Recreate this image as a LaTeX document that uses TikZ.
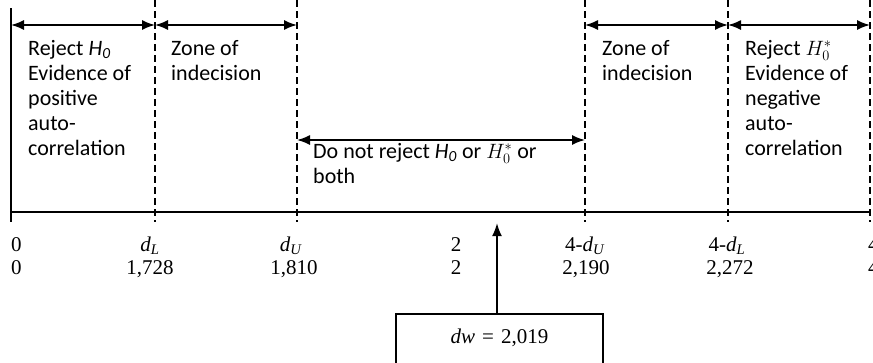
\documentclass[tikz,border=0pt]{standalone}
\usepackage{fontspec}
\setmainfont{Liberation Serif}
\newfontfamily\calib{Carlito}
\usetikzlibrary{arrows.meta}
\begin{document}
\begin{tikzpicture}[x=1pt,y=-1pt,
  dim/.style={{Latex[length=13pt,width=10pt]}-{Latex[length=13pt,width=10pt]}, line width=1.6pt},
  divider/.style={line width=2pt, dash pattern=on 7pt off 4pt},
  solidline/.style={line width=2pt},
  zonetext/.style={anchor=base west, align=left, inner sep=0pt, font=\calib\fontsize{22}{25}\selectfont},
  axlabel/.style={anchor=base, inner sep=0pt, font=\fontsize{21}{21}\selectfont},
  valbox/.style={draw, line width=2pt, anchor=north, inner sep=0pt, text width=207pt, align=center,
    text height=29pt, text depth=38pt, font=\fontsize{21}{21}\selectfont},
]
\useasboundingbox (0,0) rectangle (873,362);
% vertical boundaries
\coordinate (s0t) at (11,8);   \coordinate (s0b) at (11,222);
\coordinate (d1t) at (155,0);  \coordinate (d1b) at (155,222);
\coordinate (d2t) at (297,0);  \coordinate (d2b) at (297,222);
\coordinate (d3t) at (585,0);  \coordinate (d3b) at (585,222);
\coordinate (d4t) at (728,0);  \coordinate (d4b) at (728,222);
\coordinate (d5t) at (870,0);  \coordinate (d5b) at (870,222);
\draw[solidline] (s0t) -- (s0b);
\foreach \d in {d1,d2,d3,d4,d5} \draw[divider] (\d t) -- (\d b);
% axis
\coordinate (ax0) at (11,212); \coordinate (ax1) at (870,212);
\draw[line width=1.5pt] (ax0) -- (ax1);
% top dimension arrows
\coordinate (a0) at (11,25);  \coordinate (a1) at (155,25); \coordinate (a2) at (297,25);
\coordinate (a3) at (585,25); \coordinate (a4) at (728,25); \coordinate (a5) at (870,25);
\draw[dim] (a0) -- (a1);
\draw[dim] (a1) -- (a2);
\draw[dim] (a3) -- (a4);
\draw[dim] (a4) -- (a5);
\coordinate (m0) at (297,140); \coordinate (m1) at (585,140);
\draw[dim] (m0) -- (m1);
% zone texts (anchored at the baseline of their last line)
\node[zonetext] (z1) at (28,155) {Reject \textit{H}\textsubscript{\textit{0}}\\Evidence of\\positive\\auto-\\correlation};
\node[zonetext] (z2) at (171,80) {Zone of\\indecision};
\node[zonetext] (z3) at (313,183) {Do not reject \textit{H}\textsubscript{\textit{0}} or $H_0^*$ or\\both};
\node[zonetext] (z4) at (602,80) {Zone of\\indecision};
\node[zonetext] (z5) at (745,155) {Reject $H_0^*$\\Evidence of\\negative\\auto-\\correlation};
% axis labels
\node[axlabel, anchor=base west] (l0a) at (11,251) {0};
\node[axlabel, anchor=base west] (l0b) at (11,274) {0};
\node[axlabel] (l1a) at (150,251) {\textit{d}\textsubscript{\textit{L}}};
\node[axlabel] (l1b) at (150,274) {1,728};
\node[axlabel] (l2a) at (291,251) {\textit{d}\textsubscript{\textit{U}}};
\node[axlabel] (l2b) at (294,274) {1,810};
\node[axlabel] (l3a) at (456,251) {2};
\node[axlabel] (l3b) at (456,274) {2};
\node[axlabel] (l4a) at (585,251) {4-\textit{d}\textsubscript{\textit{U}}};
\node[axlabel] (l4b) at (586,274) {2,190};
\node[axlabel] (l5a) at (727,251) {4-\textit{d}\textsubscript{\textit{L}}};
\node[axlabel] (l5b) at (730,274) {2,272};
\node[axlabel, anchor=base west] (l6a) at (868,251) {4};
\node[axlabel, anchor=base west] (l6b) at (868,274) {4};
% dw box and arrow
\node[valbox] (dw) at (499.5,313) {\textit{dw} = 2,019};
\coordinate (dwtip) at (497,223);
\draw[line width=2pt, -{Latex[length=13pt,width=10pt]}] (dwtip |- dw.north) -- (dwtip);
\end{tikzpicture}
\end{document}
